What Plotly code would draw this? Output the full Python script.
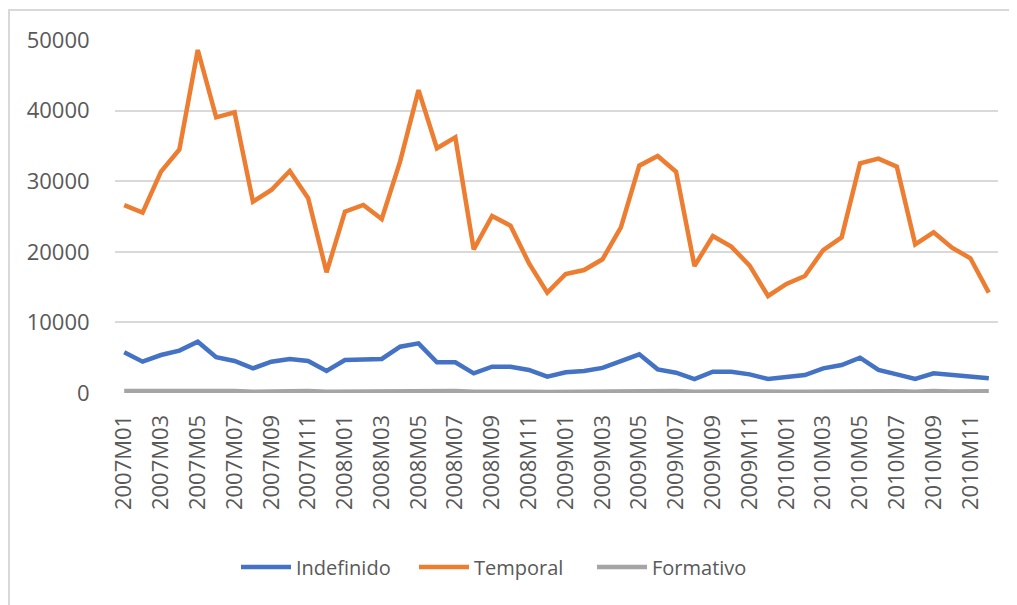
import plotly.graph_objects as go

months = [f"{y}M{m:02d}" for y in range(2007, 2011) for m in range(1, 13)]
tick_labels = months[::2]

indefinido = [5760, 4440, 5380, 6000, 7270, 5060, 4530, 3490, 4440, 4820, 4530, 3120,
              4670, 4670, 4820, 6560, 7030, 4340, 4340, 2780, 3730, 3730, 3260, 2310,
              2930, 3120, 3550, 4530, 5480, 3350, 2880, 1980, 3020, 3020, 2640, 1980,
              2310, 2550, 3490, 3960, 5000, 3260, 2640, 1980, 2780, 2550, 2310, 2080]

temporal = [26600, 25540, 31350, 34500, 48580, 39050, 39760, 27100, 28750, 31440, 27580, 17100,
            25680, 26630, 24650, 32800, 42900, 34660, 36220, 20350, 25070, 23700, 18400, 14210,
            16860, 17420, 18940, 23470, 32200, 33570, 31350, 17990, 22240, 20730, 18040, 13740,
            15440, 16570, 20250, 22050, 32530, 33190, 32060, 21060, 22760, 20580, 19080, 14210]

formativo = [300, 320, 310, 300, 330, 320, 300, 180, 230, 260, 280, 160,
             170, 190, 200, 260, 300, 290, 280, 170, 220, 230, 190, 150,
             160, 170, 190, 230, 310, 300, 270, 160, 240, 210, 220, 150,
             170, 180, 200, 230, 330, 270, 250, 180, 280, 220, 190, 250]

series = [("Indefinido", indefinido, "#4472C4"),
          ("Temporal", temporal, "#ED7D31"),
          ("Formativo", formativo, "#A5A5A5")]

fig = go.Figure()
for name, vals, color in series:
    fig.add_trace(go.Scatter(x=months, y=vals, name=name, mode="lines",
                             line=dict(color=color, width=4.5)))

text_color = "#595959"
L, R, T, B = 107, 27, 32, 220
PW, PH = 1017 - L - R, 605 - T - B

fig.update_layout(
    width=1017, height=605,
    margin=dict(l=L, r=R, t=T, b=B),
    plot_bgcolor="white", paper_bgcolor="white",
    font=dict(family="Open Sans", color=text_color),
    showlegend=True,
    legend=dict(orientation="h", x=(228 - L) / PW, xanchor="left",
                y=-(559 - T - PH) / PH, yanchor="middle",
                font=dict(size=20, color=text_color), itemwidth=50,
                entrywidth=113, entrywidthmode="pixels", tracegroupgap=0),
    xaxis=dict(type="category", categoryorder="array", categoryarray=months,
               range=[-0.5, 47.5], tickmode="array", tickvals=tick_labels, ticktext=tick_labels,
               tickangle=-90, tickfont=dict(size=22, color=text_color),
               showgrid=False, showline=False, ticks="outside", ticklen=12, tickcolor="rgba(0,0,0,0)"),
    yaxis=dict(range=[0, 50000], tickvals=[0, 10000, 20000, 30000, 40000, 50000],
               tickformat="d", tickfont=dict(size=22, color=text_color),
               showgrid=True, gridcolor="#D9D9D9", gridwidth=2, zeroline=False,
               showline=False, ticks="outside", ticklen=20, tickcolor="rgba(0,0,0,0)"),
    shapes=[dict(type="rect", xref="paper", yref="paper",
                 x0=(1 - L) / PW, x1=1.2, y0=-0.8, y1=(T + PH - 2) / PH,
                 line=dict(color="#D9D9D9", width=2), fillcolor="rgba(0,0,0,0)", layer="below")],
)

fig.write_html("out.html")
